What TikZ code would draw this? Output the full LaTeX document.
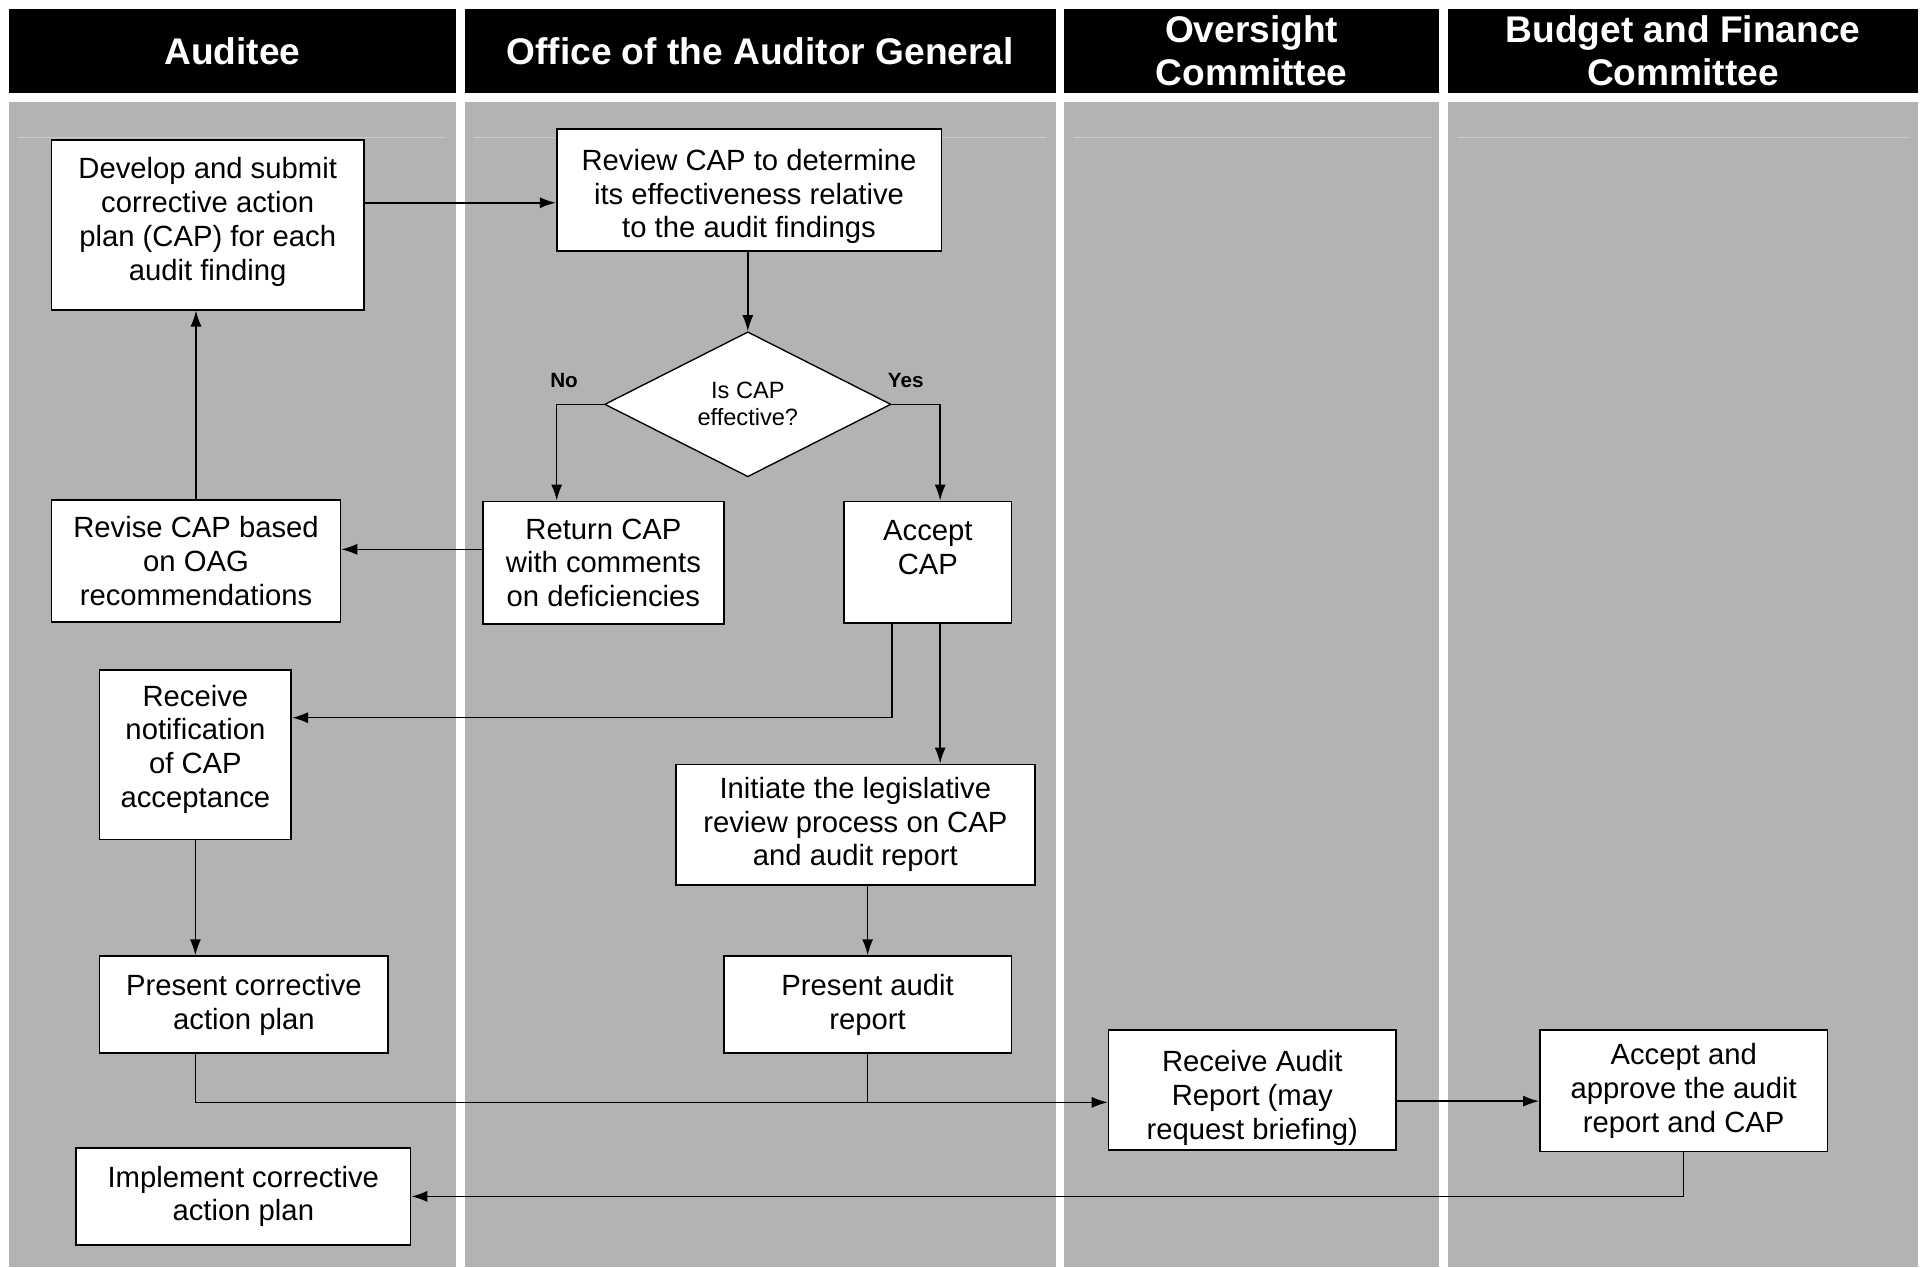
\documentclass[tikz,border=0pt]{standalone}
\usepackage{fontspec}
\setmainfont{Liberation Sans}
\usetikzlibrary{shapes.geometric,arrows.meta}
\definecolor{lane}{RGB}{179,179,179}
\definecolor{laneline}{RGB}{204,204,204}
\begin{document}
\begin{tikzpicture}[x=0.5pt,y=-0.5pt,
  box/.style={draw=black,fill=white,line width=0.7pt,inner sep=0pt,align=center,font=\fontsize{11.9}{13.75}\selectfont},
  hdr/.style={fill=black,text=white,inner sep=0pt,align=center,font=\fontsize{15.1}{17.4}\selectfont\bfseries},
  dec/.style={diamond,draw=black,fill=white,line width=0.55pt,inner sep=0pt,shape aspect=2,align=center,font=\fontsize{9.6}{11}\selectfont},
  arr/.style={draw=black,line width=0.6pt,-{Latex[length=6.5pt,width=4.5pt]}},
  ln/.style={draw=black,line width=0.6pt},
  lbl/.style={font=\fontsize{8.4}{10}\selectfont\bfseries,inner sep=0pt}]
\useasboundingbox (0,0) rectangle (1568,1031);
\fill[white] (0,0) rectangle (1568,1031);
% lanes
\fill[lane] (7,83) rectangle (371,1031);
\fill[lane] (378,83) rectangle (859,1031);
\fill[lane] (866,83) rectangle (1171,1031);
\fill[lane] (1178,83) rectangle (1561,1031);
\draw[laneline,line width=0.5pt] (15,112) -- (362,112);
\draw[laneline,line width=0.5pt] (386,112) -- (851,112);
\draw[laneline,line width=0.5pt] (874,112) -- (1164,112);
\draw[laneline,line width=0.5pt] (1186,112) -- (1553,112);
% headers
\node[hdr,minimum width=182pt,minimum height=34.5pt] (hA) at (189,41.5) {Auditee};
\node[hdr,minimum width=240.5pt,minimum height=34.5pt] (hO) at (618.5,41.5) {Office of the Auditor General};
\node[hdr,minimum width=152.5pt,minimum height=34.5pt] (hC) at (1018.5,41.5) {Oversight\\Committee};
\node[hdr,minimum width=191.5pt,minimum height=34.5pt] (hB) at (1369.5,41.5) {Budget and Finance\\Committee};
% boxes
\node[box,minimum width=127pt,minimum height=69pt] (dev) at (169,183) {Develop and submit\\corrective action\\plan (CAP) for each\\audit finding\\[-9pt]\mbox{}};
\node[box,minimum width=156.5pt,minimum height=49.5pt] (rev) at (609.5,154.5) {Review CAP to determine\\its effectiveness relative\\to the audit findings\\[-16.75pt]\mbox{}};
\node[dec,minimum width=116.5pt,minimum height=59pt] (dia) at (608.5,329) {Is CAP\\effective?};
\node[box,minimum width=98pt,minimum height=50pt] (ret) at (491,458) {Return CAP\\with comments\\on deficiencies};
\node[box,minimum width=68pt,minimum height=49.5pt] (acc) at (755,457.5) {Accept\\CAP\\[-2pt]\mbox{}};
\node[box,minimum width=117.5pt,minimum height=49.5pt] (revi) at (159.5,456.5) {Revise CAP based\\on OAG\\recommendations};
\node[box,minimum width=78pt,minimum height=69pt] (rcv) at (159,614) {Receive\\notification\\of CAP\\acceptance\\[-7pt]\mbox{}};
\node[box,minimum width=146pt,minimum height=49pt] (ini) at (696,671) {Initiate the legislative\\review process on CAP\\and audit report};
\node[box,minimum width=117.5pt,minimum height=39.5pt] (pcap) at (198.5,817.5) {Present corrective\\action plan};
\node[box,minimum width=117pt,minimum height=39.5pt] (paud) at (706,817.5) {Present audit\\report};
\node[box,minimum width=117pt,minimum height=49pt] (rar) at (1019,887) {Receive Audit\\Report (may\\request briefing)\\[-17.75pt]\mbox{}};
\node[box,minimum width=117pt,minimum height=49.5pt] (appr) at (1370,887.5) {Accept and\\approve the audit\\report and CAP};
\node[box,minimum width=136pt,minimum height=39.5pt] (impl) at (198,973.5) {Implement corrective\\action plan};
% labels
\node[lbl] (no) at (459,310) {No};
\node[lbl] (yes) at (737,310) {Yes};
% connectors
\draw[arr] ([yshift=9pt]dev.east) -- ([yshift=9pt]dev.east -| rev.west);
\draw[arr] (dia.north |- rev.south) -- (dia.north);
\draw[arr] (dia.west) -| ([xshift=-19pt]ret.north);
\draw[arr] (dia.east) -| ([xshift=5pt]acc.north);
\draw[arr] ([yshift=5.5pt]ret.west) -- ([yshift=5.5pt]ret.west -| revi.east);
\draw[arr] (revi.north) -- (revi.north |- dev.south);
\draw[arr] ([xshift=-14.5pt]acc.south) |- ([yshift=15pt]rcv.east);
\draw[arr] ([xshift=5pt]acc.south) -- ([xshift=5pt]acc.south |- ini.north);
\draw[arr] (paud.north |- ini.south) -- (paud.north);
\draw[arr] (rcv.south) -- (rcv.south |- pcap.north);
\coordinate (j) at ([yshift=-5pt]rar.west);
\draw[arr] ([xshift=-19.75pt]pcap.south) |- (j);
\draw[ln] (paud.south) -- (paud.south |- j);
\draw[arr] ([yshift=-4.5pt]rar.east) -- ([yshift=-4.5pt]rar.east -| appr.west);
\draw[arr] (appr.south) |- (impl.east);
\end{tikzpicture}
\end{document}
